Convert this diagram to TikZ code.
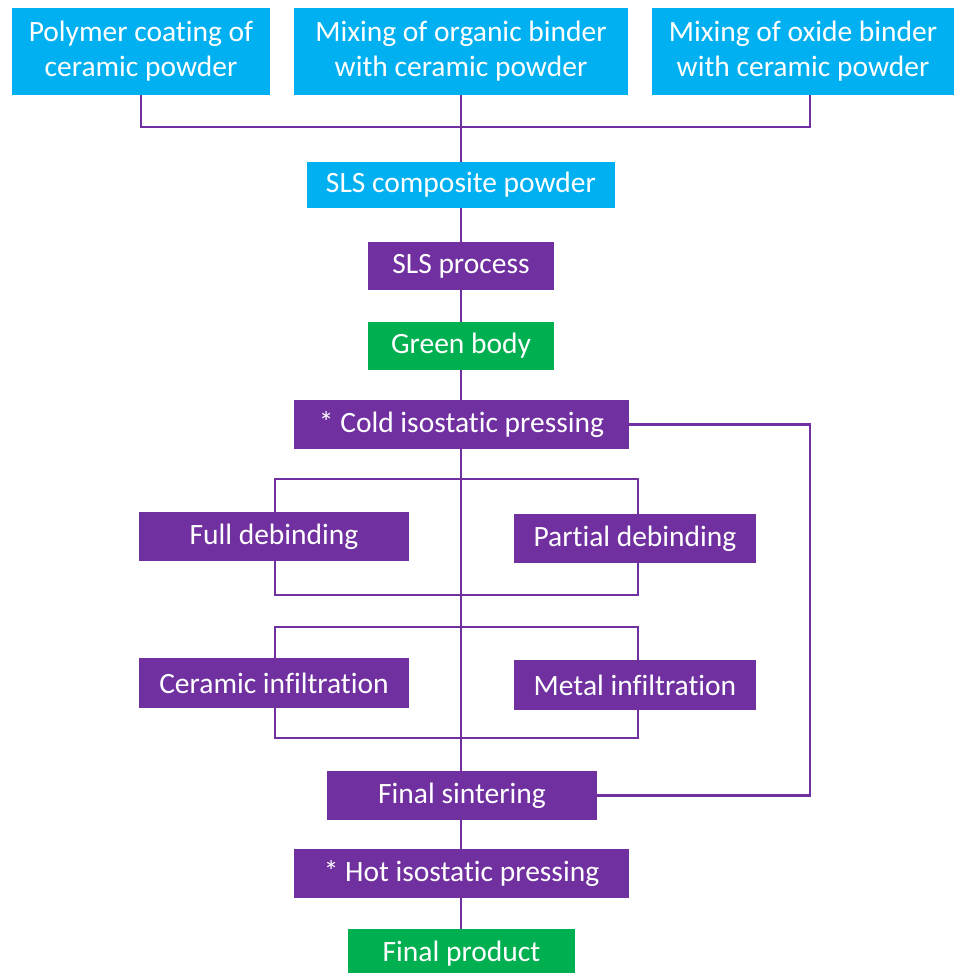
\documentclass[tikz,border=0pt]{standalone}
\usepackage{fontspec}
\setmainfont[RawFeature=-liga]{Carlito}
\definecolor{cyanbox}{HTML}{00B0F0}
\definecolor{purplebox}{HTML}{7030A0}
\definecolor{greenbox}{HTML}{00B050}
\tikzset{
  base/.style={rectangle, inner sep=0pt, text=white, font=\fontsize{29.5}{35}\selectfont, align=center},
  cbox/.style={base, fill=cyanbox},
  pbox/.style={base, fill=purplebox},
  gbox/.style={base, fill=greenbox},
  link/.style={draw=purplebox, line width=2.8pt}
}
\begin{document}
\begin{tikzpicture}[x=1pt,y=-1pt]
\useasboundingbox (0,0) rectangle (957,973);
\fill[white] (0,0) rectangle (957,973);
% nodes
\node[cbox, minimum width=258, minimum height=87] (p1) at (141,51.5) {Polymer coating of\\ceramic powder};
\node[cbox, minimum width=334, minimum height=87] (p2) at (461,51.5) {Mixing of organic binder\\with ceramic powder};
\node[cbox, minimum width=302, minimum height=87] (p3) at (803,51.5) {Mixing of oxide binder\\with ceramic powder};
\node[cbox, minimum width=308, minimum height=46] (sls) at (461,185) {SLS composite powder};
\node[pbox, minimum width=186, minimum height=48] (proc) at (461,266) {SLS process};
\node[gbox, minimum width=186, minimum height=48] (green) at (461,346) {Green body};
\node[pbox, minimum width=335, minimum height=49] (cold) at (461.5,424.5) {* Cold isostatic pressing};
\node[pbox, minimum width=270, minimum height=49] (full) at (274,536.5) {Full debinding};
\node[pbox, minimum width=242, minimum height=49] (part) at (635,538.5) {Partial debinding};
\node[pbox, minimum width=270, minimum height=50] (cer) at (274,683) {Ceramic infiltration};
\node[pbox, minimum width=242, minimum height=50] (met) at (635,685) {Metal infiltration};
\node[pbox, minimum width=270, minimum height=49] (sint) at (462,795.5) {Final sintering};
\node[pbox, minimum width=335, minimum height=49] (hot) at (461.5,873.5) {* Hot isostatic pressing};
\node[gbox, minimum width=227, minimum height=50] (prod) at (461.5,954) {Final product};
\coordinate (join) at (461,127);
\coordinate (loopR) at (810,424.5);
% connectors
\draw[link] (p1.south -| 141,0) |- (join);
\draw[link] (p3.south -| 810,0) |- (join);
\draw[link] (p2.south) -- (join) -- (sls.north);
\draw[link] (sls.south) -- (proc.north);
\draw[link] (proc.south) -- (green.north);
\draw[link] (green.south) -- (cold.north -| green.south);
\draw[link] (cold.south -| 461,0) -- (sint.north -| 461,0);
\draw[link] (full.north -| 275,0) |- (461,479) -| (part.north -| 638,0);
\draw[link] (full.south -| 275,0) |- (461,595) -| (part.south -| 638,0);
\draw[link] (cer.north -| 275,0) |- (461,627) -| (met.north -| 638,0);
\draw[link] (cer.south -| 275,0) |- (461,738) -| (met.south -| 638,0);
\draw[link] (cold.east) -- (loopR) |- (sint.east);
\draw[link] (sint.south -| 461,0) -- (hot.north -| 461,0);
\draw[link] (hot.south -| 461,0) -- (prod.north -| 461,0);
\end{tikzpicture}
\end{document}
